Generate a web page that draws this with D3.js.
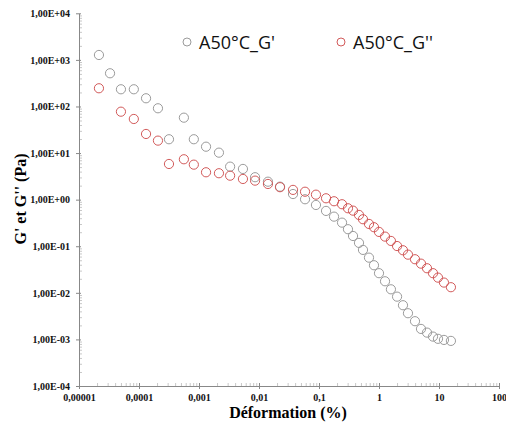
<!DOCTYPE html>
<html>
<head>
<meta charset="utf-8">
<script src="https://cdn.jsdelivr.net/npm/d3@7"></script>
<style>
  body { margin: 0; background: #fff; }
  .tick text { font-family: 'Liberation Serif', 'Times New Roman', serif; font-weight: bold; font-size: 10px; fill: #111; }
</style>
</head>
<body>
<div id="chart"></div>
<script>
// strain (%) and moduli (Pa)
const strain = [2.15e-5, 3.29e-5, 5e-5, 8.2e-5, 1.31e-4, 2.07e-4, 3.16e-4, 5.6e-4, 8.2e-4, 1.31e-3,
  2.15e-3, 3.3e-3, 5.4e-3, 8.6e-3, 0.0141, 0.0224, 0.0369, 0.0585, 0.089, 0.131,
  0.178, 0.242, 0.304, 0.369, 0.464, 0.541, 0.681, 0.825, 1.0, 1.26,
  1.58, 2.0, 2.51, 3.04, 3.98, 5.01, 6.31, 7.94, 9.62, 12.1, 15.8];
const gPrime = [1274, 516, 234, 234, 150, 91.5, 19.8, 57.5, 19.8, 13.7,
  10.2, 5.11, 4.56, 3.03, 2.43, 1.90, 1.32, 1.02, 0.769, 0.573,
  0.432, 0.321, 0.232, 0.166, 0.118, 0.0834, 0.0569, 0.0391, 0.0264, 0.0177,
  0.0119, 0.00828, 0.00542, 0.00365, 0.00246, 0.00168, 0.00140, 0.00115, 0.00103, 0.000975, 0.000929];
const gSecond = [246, null, 77.3, 53.9, 25.7, 18.5, 5.83, 7.36, 5.64, 3.87,
  3.69, 3.27, 2.78, 2.56, 2.17, 1.85, 1.62, 1.48, 1.28, 1.07,
  0.924, 0.797, 0.653, 0.581, 0.470, 0.380, 0.301, 0.256, 0.203, 0.161,
  0.130, 0.101, 0.082, 0.066, 0.0526, 0.0423, 0.0337, 0.0264, 0.0212, 0.0166, 0.0132];

const seriesNames = ["A50°C_G'", "A50°C_G''"];
const seriesColors = ['#9b9b9b', '#d25a5a'];

const xTicks = [1e-5, 1e-4, 1e-3, 1e-2, 1e-1, 1, 10, 100];
const xTickLabels = ['0,00001', '0,0001', '0,001', '0,01', '0,1', '1', '10', '100'];
const yTicks = [1e-4, 1e-3, 1e-2, 1e-1, 1, 10, 100, 1e3, 1e4];
const yTickLabels = ['1,00E-04', '1,00E-03', '1,00E-02', '1,00E-01', '1,00E+00',
  '1,00E+01', '1,00E+02', '1,00E+03', '1,00E+04'];

const width = 506;
const height = 427;
const margin = {top: 13.3, right: 7, bottom: 41, left: 79};

const svg = d3.select('#chart')
  .append('svg')
  .attr('width', width)
  .attr('height', height);

const x = d3.scaleLog()
  .domain([1e-5, 100])
  .range([margin.left, width - margin.right]);
const y = d3.scaleLog()
  .domain([1e-4, 1e4])
  .range([height - margin.bottom, margin.top]);

const minors = function (majors) {
  const out = [];
  majors.slice(0, -1).forEach(function (m) {
    for (let k = 2; k <= 9; k++) out.push(m * k);
  });
  return out;
};

// minor ticks, inside the plot
svg.append('g')
  .attr('transform', `translate(0,${y.range()[0]})`)
  .call(d3.axisBottom(x).tickValues(minors(xTicks)).tickSize(-3).tickFormat(''))
  .call(function (g) { g.select('.domain').remove(); })
  .selectAll('line').attr('stroke', '#c8c8c8');
svg.append('g')
  .attr('transform', `translate(${x.range()[0]},0)`)
  .call(d3.axisLeft(y).tickValues(minors(yTicks)).tickSize(-3).tickFormat(''))
  .call(function (g) { g.select('.domain').remove(); })
  .selectAll('line').attr('stroke', '#c8c8c8');

// major axes
const xAxis = svg.append('g')
  .attr('transform', `translate(0,${y.range()[0]})`)
  .call(d3.axisBottom(x).tickValues(xTicks).tickSizeOuter(0).tickSizeInner(3).tickPadding(5)
    .tickFormat(function (d, i) { return xTickLabels[i]; }));
xAxis.select('.domain').attr('stroke', '#888');
xAxis.selectAll('.tick line').attr('stroke', '#888').attr('y1', -3);

const yAxis = svg.append('g')
  .attr('transform', `translate(${x.range()[0]},0)`)
  .call(d3.axisLeft(y).tickValues(yTicks).tickSizeOuter(0).tickSizeInner(3).tickPadding(6)
    .tickFormat(function (d, i) { return yTickLabels[i]; }));
yAxis.select('.domain').attr('stroke', '#888');
yAxis.selectAll('.tick line').attr('stroke', '#888').attr('x1', 2);

// axis titles
svg.append('text')
  .attr('x', 288)
  .attr('y', 418)
  .attr('text-anchor', 'middle')
  .style('font-family', "'Liberation Serif', 'Times New Roman', serif")
  .style('font-weight', 'bold')
  .style('font-size', '16px')
  .text('Déformation (%)');

svg.append('text')
  .attr('transform', 'translate(26,199) rotate(-90)')
  .attr('text-anchor', 'middle')
  .style('font-family', "'Liberation Serif', 'Times New Roman', serif")
  .style('font-weight', 'bold')
  .style('font-size', '16px')
  .text("G' et G'' (Pa)");

// points
const series = [gPrime, gSecond];
series.forEach(function (values, s) {
  const pts = strain.map(function (d, i) { return {x: d, y: values[i]}; })
    .filter(function (d) { return d.y != null; });
  svg.append('g')
    .selectAll('circle')
    .data(pts)
    .enter().append('circle')
    .attr('cx', function (d) { return x(d.x); })
    .attr('cy', function (d) { return y(d.y); })
    .attr('r', 4.6)
    .attr('fill', 'none')
    .attr('stroke', seriesColors[s])
    .attr('stroke-width', 1);
});

// legend
const legendX = [187, 341];
const legend = svg.selectAll('.legend')
  .data(seriesNames)
  .enter().append('g')
  .attr('class', 'legend')
  .attr('transform', function (d, i) { return `translate(${legendX[i]},42)`; });
legend.append('circle')
  .attr('r', 4)
  .attr('fill', 'none')
  .attr('stroke', function (d, i) { return seriesColors[i]; });
legend.append('text')
  .attr('x', 12)
  .attr('y', 6.5)
  .style('font-family', "'Open Sans', sans-serif")
  .style('font-size', '18px')
  .style('fill', '#111')
  .text(function (d) { return d; });
</script>
</body>
</html>
